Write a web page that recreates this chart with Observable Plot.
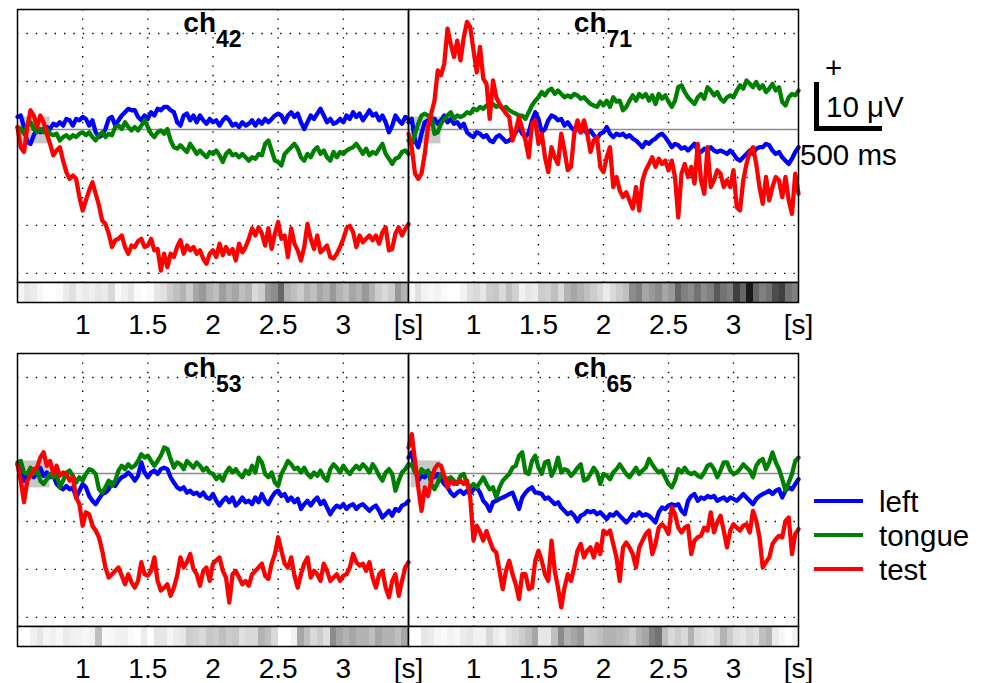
<!DOCTYPE html>
<html><head><meta charset="utf-8">
<script src="https://cdn.jsdelivr.net/npm/d3@7"></script>
<script src="https://cdn.jsdelivr.net/npm/@observablehq/plot@0.6"></script>
<style>
body{margin:0;background:#fff;font-family:"Liberation Sans",Arial,sans-serif;}
#fig{position:relative;width:988px;height:683px;overflow:hidden;background:#fff;}
#fig svg{position:absolute;}
.lbl{position:absolute;font-size:29.5px;line-height:29.5px;white-space:nowrap;color:#000;}
.title{position:absolute;font-weight:bold;font-size:28px;line-height:28px;text-align:center;white-space:nowrap;}
.title sub{font-size:23px;vertical-align:baseline;position:relative;top:15px;}
.bar{position:absolute;background:#000;}
</style></head><body><div id="fig"></div>
<script>
// ---------------- data ----------------
const seriesNames = ["left", "tongue", "test"];
const channels = ["42", "71", "53", "65"];
const tStart = 0.5, tStep = 0.025;      // sampling grid of the traces [s]
const sigStep = 0.05;                   // bin width of the significance strip [s]
const xDomain = [0.5, 3.5];
const yDomain = [-31.9, 25];            // µV
const xTicks = [1, 1.5, 2, 2.5, 3, 3.5];
const xTickLabels = ["1", "1.5", "2", "2.5", "3", "[s]"];
const yGrid = [-30, -20, -10, 10, 20];
const baselineWindow = [{x1: 0.52, x2: 0.75, y1: -3, y2: 2.6}];

const ch42_left = [2.6,2.9,0.5,-2.6,-3.0,-1.2,0.1,-0.6,0.1,0.5,
0.1,1.2,0.8,1.5,0.8,2.2,1.9,0.8,2.2,1.9,
2.6,2.2,0.8,1.9,-0.6,-1.6,-1.2,0.1,2.2,2.6,
0.8,1.9,2.9,3.6,4.3,4.0,4.0,2.6,1.9,2.9,
2.2,3.6,2.9,4.3,4.0,4.7,4.7,4.0,3.6,1.5,
0.8,2.9,3.3,1.9,2.9,1.5,2.9,1.9,1.2,2.2,
1.5,1.9,0.8,1.9,2.6,1.9,0.8,1.2,0.5,1.5,
0.8,1.2,1.9,0.8,1.9,1.2,2.2,1.5,2.2,2.9,
3.3,2.9,1.5,2.9,3.6,2.6,3.3,1.5,0.1,1.5,
2.9,2.2,3.3,4.3,2.9,1.5,2.2,1.2,1.5,2.2,
1.5,2.9,2.2,3.6,2.6,3.3,1.9,2.9,4.0,2.9,
3.3,1.9,2.9,1.5,-0.6,0.8,2.9,1.9,1.2,2.6,
2.2];
const ch42_tongue = [0.5,0.1,-0.9,0.8,1.5,0.1,-0.6,0.1,-0.6,0.1,
-0.9,-1.2,-0.9,-2.3,-1.6,-1.2,-1.9,-1.2,-1.6,-0.9,
-0.6,-1.2,-0.6,-1.6,-2.3,-1.2,-0.6,-1.6,-0.9,-1.2,
0.5,0.8,0.1,1.5,0.5,-0.2,0.5,-0.2,0.8,1.9,
0.5,-0.9,-1.6,-0.6,-0.2,-0.9,0.1,-2.3,-3.7,-4.0,
-3.3,-4.0,-4.7,-3.0,-4.0,-5.1,-4.4,-5.1,-5.8,-4.7,
-5.1,-4.4,-5.4,-6.8,-5.1,-4.4,-5.4,-5.1,-5.8,-5.1,
-5.8,-6.5,-5.8,-6.1,-5.1,-5.4,-3.0,-2.3,-4.4,-6.5,
-6.8,-7.5,-5.1,-4.4,-3.7,-3.0,-4.0,-5.8,-6.5,-5.1,
-5.8,-4.4,-3.7,-5.1,-4.4,-5.8,-6.5,-4.7,-5.8,-4.7,
-5.1,-4.4,-4.0,-3.7,-3.0,-4.0,-5.1,-4.0,-5.4,-4.7,
-5.1,-4.0,-3.0,-5.1,-6.1,-7.2,-6.1,-5.8,-4.7,-4.4,
-5.1];
const ch42_test = [0.5,-3.7,-4.7,0.5,4.0,2.9,0.5,2.9,1.5,-0.9,
-3.0,-5.4,-4.4,-3.7,-6.5,-8.9,-10.3,-9.6,-10.3,-14.1,
-16.9,-14.8,-12.7,-11.0,-13.4,-15.8,-19.0,-19.7,-21.7,-24.5,
-23.1,-22.8,-22.1,-24.5,-25.9,-24.2,-24.5,-23.3,-22.8,-24.5,
-24.2,-22.8,-25.2,-24.9,-29.4,-25.9,-28.7,-25.9,-26.6,-24.5,
-23.1,-25.9,-24.2,-25.2,-24.5,-25.9,-25.2,-26.9,-28.0,-25.9,
-25.2,-26.6,-23.8,-26.2,-24.5,-25.9,-24.9,-27.3,-23.8,-25.6,
-24.5,-22.8,-20.6,-22.1,-20.4,-21.7,-24.2,-20.6,-24.9,-21.7,
-19.3,-22.8,-22.1,-26.6,-20.6,-23.8,-25.2,-27.3,-24.5,-19.7,
-22.8,-24.9,-22.1,-25.6,-24.9,-24.2,-26.6,-26.9,-25.9,-24.5,
-22.8,-20.6,-20.1,-21.4,-24.5,-22.1,-23.5,-22.8,-22.1,-23.1,
-22.1,-23.8,-21.4,-20.4,-25.2,-24.9,-21.7,-20.4,-22.1,-20.7,
-19.7];

const ch71_left = [1.5,2.2,-2.3,-3.7,-0.9,1.5,1.9,1.2,2.2,1.2,
1.9,2.9,1.5,2.2,1.2,1.5,0.5,1.2,-0.6,-1.2,
-1.6,-0.6,-0.9,-1.6,-1.2,-2.3,-2.6,-1.6,-1.2,-1.9,
-2.6,-2.3,-1.6,-0.6,0.5,-0.9,-1.6,-0.6,1.9,3.6,
2.2,-0.6,0.1,1.9,2.9,2.6,1.9,2.2,0.8,1.5,
0.5,-0.2,0.5,-0.6,0.1,-0.9,-0.2,-1.2,-1.9,-0.9,
-0.6,0.5,-0.9,-1.6,-0.9,-1.2,-0.9,-1.6,-1.2,-1.9,
-2.3,-3.0,-3.7,-2.6,-3.0,-2.3,-1.9,-1.2,-0.9,-1.6,
-2.6,-3.7,-3.0,-3.3,-4.0,-3.7,-4.4,-3.7,-3.0,-4.4,
-4.7,-4.0,-4.4,-3.7,-4.4,-4.7,-4.4,-4.7,-5.1,-4.4,
-5.1,-6.1,-6.5,-5.8,-5.1,-4.4,-5.1,-4.0,-3.7,-3.7,
-3.0,-3.3,-4.4,-5.1,-4.7,-5.8,-6.5,-7.2,-6.1,-4.7,
-3.7];
const ch71_tongue = [-2.3,-3.0,-0.9,1.2,2.9,3.3,2.9,2.9,-0.9,-0.6,
1.2,2.2,2.9,3.6,2.2,2.9,2.6,2.9,3.6,3.3,
4.3,4.0,4.7,4.3,5.0,4.7,5.3,4.7,5.0,4.3,
4.7,4.0,3.6,3.3,2.9,2.9,2.2,3.6,5.0,6.0,
6.7,7.8,7.1,8.1,8.5,7.4,8.1,7.4,6.7,7.1,
6.7,7.4,7.1,6.4,6.7,6.0,5.3,5.0,4.7,5.8,
5.0,6.0,4.7,6.7,5.8,6.0,4.0,4.7,6.0,7.1,
6.0,7.4,6.7,7.4,6.0,7.1,5.3,7.4,6.4,7.1,
5.8,4.7,6.0,8.8,9.2,7.8,6.7,6.0,5.3,6.7,
7.4,6.4,8.8,8.1,7.1,7.8,6.4,5.8,6.7,7.1,
6.7,8.1,9.2,8.5,10.2,9.5,8.8,9.9,8.5,9.2,
7.8,8.5,9.5,8.1,8.8,5.7,5.0,6.7,7.4,7.1,
8.1];
const ch71_test = [-0.9,-3.7,-9.2,-10.3,-9.2,-5.1,0.5,3.3,6.0,12.3,
11.3,13.7,21.0,17.8,15.1,18.5,14.4,19.2,22.4,21.3,
16.5,11.9,17.2,10.6,9.5,2.2,10.2,6.7,5.3,4.3,
3.3,2.6,-2.3,-0.2,2.6,0.1,-2.3,-5.8,1.2,1.9,
-3.0,-0.9,-5.8,-8.9,-3.7,-5.8,-7.2,-0.9,-4.4,-8.5,
-7.8,-0.9,1.9,-0.6,1.9,-0.9,-4.7,-2.3,-1.6,-7.8,
-8.9,-5.8,-3.7,-12.0,-9.9,-12.7,-14.1,-13.1,-14.8,-16.5,
-12.0,-16.9,-10.6,-8.5,-7.2,-5.8,-7.8,-6.1,-7.2,-6.5,
-8.5,-6.5,-9.9,-18.3,-9.2,-7.2,-9.9,-7.8,-11.3,-3.0,
-10.6,-13.4,-3.7,-12.0,-10.6,-8.5,-9.2,-12.0,-10.6,-12.0,
-8.5,-16.2,-16.9,-10.6,-7.2,-4.7,-3.7,-7.2,-12.0,-15.5,
-9.9,-14.8,-12.0,-9.9,-10.6,-14.1,-9.9,-14.8,-17.6,-9.2,
-13.4];

const ch53_left = [1.9,0.2,-1.5,-0.1,0.2,-0.8,0.2,1.2,-0.5,0.2,
-0.8,-0.5,-2.2,-2.9,-3.3,-2.6,-3.3,-2.9,-5.0,-3.6,
-2.2,-2.9,-4.7,-5.7,-6.4,-5.3,-4.3,-4.0,-3.3,-1.9,
-2.6,-1.5,-0.8,-0.5,0.2,-0.5,-1.5,-0.5,2.3,0.2,
-0.8,0.2,0.6,-0.1,0.9,1.2,0.9,-0.8,-1.9,-2.9,
-3.3,-2.9,-4.0,-3.6,-4.3,-4.0,-4.7,-4.0,-5.0,-5.3,
-4.3,-5.7,-6.7,-5.7,-5.0,-6.0,-5.0,-6.7,-6.0,-5.0,
-6.0,-5.7,-6.4,-5.0,-6.0,-4.3,-5.7,-6.4,-5.0,-4.0,
-3.6,-4.7,-4.3,-5.7,-5.0,-6.0,-5.3,-7.4,-6.4,-5.7,
-6.7,-5.7,-5.0,-6.4,-5.7,-7.1,-8.5,-7.4,-6.7,-7.1,
-6.4,-7.4,-6.7,-6.4,-7.4,-6.7,-6.4,-7.1,-7.8,-7.1,
-6.7,-7.8,-9.2,-8.5,-7.8,-8.8,-7.4,-7.8,-6.7,-6.4,
-5.7];
const ch53_tongue = [2.3,2.6,0.2,-0.1,1.2,-0.1,0.9,-1.5,-2.2,-1.2,
-0.1,-0.8,-0.1,-2.9,-1.5,0.2,0.6,-0.5,-1.9,-0.8,
-1.5,-0.1,0.9,0.6,-0.1,-3.3,-4.0,-2.9,-1.5,-2.6,
-1.5,0.6,1.6,0.9,1.9,1.2,1.6,2.6,4.0,3.3,
3.7,2.6,1.6,2.6,3.7,5.4,5.1,3.0,1.2,2.3,
1.9,0.9,2.6,1.9,1.2,2.3,1.6,0.6,1.2,0.2,
-0.1,-1.2,-0.5,-1.5,0.2,1.2,0.2,0.9,-0.1,-0.8,
0.6,-0.1,1.6,0.2,3.3,2.3,-0.1,-0.8,0.2,-1.9,
-2.6,-0.1,1.2,2.6,1.9,0.9,1.2,0.2,1.2,-0.1,
-0.8,0.2,-0.5,0.6,-0.8,-1.5,0.9,1.9,1.2,0.2,
1.6,0.6,-0.1,0.9,1.6,0.9,1.9,1.2,0.2,1.9,
0.9,-0.5,-1.5,0.2,0.9,-0.1,-3.6,-1.5,0.2,0.9,
1.9];
const ch53_test = [1.9,-1.5,-6.0,-1.5,-0.5,0.9,1.2,3.3,4.4,1.6,
2.6,-0.1,1.6,-0.5,0.2,-0.1,-1.5,-0.8,-5.0,-6.4,
-10.9,-8.1,-8.5,-10.9,-11.9,-13.3,-16.1,-19.6,-21.7,-21.0,
-20.3,-19.6,-21.3,-23.1,-21.0,-22.7,-23.8,-22.4,-18.5,-21.0,
-21.3,-20.3,-17.5,-22.4,-24.4,-23.8,-23.1,-25.5,-23.8,-21.3,
-17.5,-19.6,-18.5,-16.8,-19.9,-21.0,-23.4,-20.3,-19.6,-22.4,
-18.8,-18.1,-17.5,-20.3,-21.7,-26.9,-21.0,-20.3,-21.7,-23.1,
-22.4,-23.4,-21.0,-20.3,-19.6,-18.8,-21.3,-22.0,-18.8,-16.8,
-13.3,-16.1,-18.8,-19.6,-17.5,-21.3,-23.8,-21.0,-18.8,-17.5,
-21.7,-20.3,-21.0,-22.4,-18.8,-20.3,-22.4,-21.7,-21.0,-22.4,
-21.3,-21.0,-19.6,-16.8,-18.5,-19.2,-18.8,-20.3,-18.5,-21.7,
-23.8,-21.0,-20.3,-23.8,-25.8,-22.4,-21.0,-25.5,-22.4,-19.6,
-18.5];

const ch65_left = [3.3,4.4,0.9,-1.5,-0.5,-0.8,0.2,-0.1,-0.8,-0.1,
-1.2,-2.2,-2.9,-4.0,-4.7,-4.0,-3.6,-4.3,-3.6,-4.3,
-3.3,-2.9,-4.0,-5.7,-6.4,-7.8,-6.0,-5.7,-5.3,-5.0,
-4.7,-4.3,-4.0,-5.7,-7.4,-5.0,-4.0,-3.3,-2.9,-4.0,
-4.0,-4.3,-5.3,-5.0,-5.7,-6.4,-6.0,-7.1,-7.8,-8.5,
-8.1,-8.8,-10.0,-8.8,-8.5,-7.8,-8.1,-7.8,-8.5,-8.1,
-8.8,-9.5,-8.5,-8.8,-8.1,-8.8,-9.5,-10.2,-9.5,-8.5,
-8.8,-8.1,-8.8,-8.5,-8.8,-9.5,-10.2,-8.1,-7.1,-7.4,
-6.7,-6.4,-6.7,-6.4,-7.8,-8.5,-5.7,-4.7,-4.3,-5.7,
-5.0,-5.3,-4.7,-5.0,-4.7,-5.7,-5.3,-5.0,-5.7,-5.0,
-5.3,-5.7,-5.0,-4.3,-5.0,-5.7,-6.4,-5.3,-4.7,-4.3,
-4.0,-3.6,-4.3,-3.6,-3.3,-5.0,-3.6,-2.9,-3.3,-2.2,
-1.2];
const ch65_tongue = [1.6,1.9,0.2,-0.5,0.9,0.2,0.6,-2.2,-3.3,-1.9,
-0.1,-0.8,-1.2,-0.8,-1.5,-2.2,-0.5,-0.1,-2.2,-2.9,
-2.2,-2.9,-1.9,-0.8,-2.2,-3.3,-2.9,-5.0,-2.9,-1.5,
-0.8,-0.1,1.2,1.6,3.7,4.4,0.2,-0.1,2.6,3.7,
1.2,-0.1,2.3,2.6,-0.5,0.9,3.3,0.2,0.9,0.6,
-0.5,0.2,1.2,1.9,-1.5,-1.2,-0.1,1.2,0.2,-2.2,
-0.1,-0.5,-1.2,0.2,0.9,1.9,0.9,-0.1,-0.8,0.2,
1.2,-0.1,0.6,1.2,3.0,1.9,0.9,0.2,0.6,-0.8,
-2.2,-2.9,-1.5,0.9,0.2,1.2,0.2,-0.1,0.2,-0.5,
-0.8,0.2,1.6,1.9,0.9,-0.8,0.6,2.3,2.3,0.6,
-0.1,0.2,0.9,1.9,1.2,0.6,-0.8,1.6,2.6,3.0,
0.9,2.3,4.4,2.3,0.9,-1.2,-3.6,-1.9,-0.1,2.6,
3.3];
const ch65_test = [5.4,8.2,2.6,-2.9,-7.8,-2.9,-4.7,-1.5,0.9,1.9,
1.6,-0.5,-2.9,-1.5,-2.2,-1.9,-1.5,-2.2,-1.5,-5.0,
-14.0,-10.9,-12.2,-14.0,-12.0,-14.0,-15.8,-16.5,-20.3,-24.1,
-20.3,-18.2,-21.0,-23.1,-26.2,-21.0,-21.0,-24.1,-23.8,-18.2,
-16.1,-18.2,-21.0,-22.4,-14.0,-20.3,-23.8,-27.9,-23.8,-21.0,
-22.4,-19.6,-16.1,-14.7,-17.5,-16.1,-15.4,-17.5,-14.7,-16.8,
-11.9,-12.6,-11.9,-14.7,-17.5,-22.4,-15.4,-14.4,-15.4,-16.8,
-19.6,-15.4,-14.0,-12.6,-11.9,-16.8,-14.7,-11.3,-10.6,-11.3,
-12.6,-7.1,-8.5,-11.3,-12.3,-11.3,-10.9,-16.8,-14.0,-13.3,
-13.0,-11.3,-11.9,-8.1,-12.3,-10.2,-8.8,-11.9,-15.4,-11.9,
-10.6,-11.3,-11.9,-10.9,-10.6,-12.3,-7.8,-9.9,-13.3,-19.6,
-18.5,-17.5,-14.7,-13.7,-13.0,-13.3,-9.9,-9.2,-16.8,-12.6,
-11.6];

// significance strips (0 = white, 1 = black), one value per 0.05 s
const ch42_sig = [0.04,0.1,0.08,0.03,0,0,0.02,0.08,0.12,0.05,0.08,0.06,0.1,0.08,0.15,0.02,0.06,0.1,0.02,0,
0.02,0.1,0.12,0.2,0.25,0.3,0.2,0.35,0.4,0.3,0.25,0.38,0.3,0.35,0.25,0.3,0.15,0.2,0.4,0.45,
0.6,0.3,0.25,0.2,0.3,0.25,0.35,0.3,0.4,0.3,0.25,0.35,0.3,0.4,0.3,0.2,0.15,0.2,0.4,0.3];
const ch71_sig = [0.03,0.12,0.05,0.03,0.05,0.02,0,0,0.05,0.12,0.15,0.1,0.2,0.22,0.15,0.25,0.18,0.05,0.1,0.08,
0.2,0.18,0.25,0.15,0.3,0.35,0.3,0.25,0.2,0.15,0.08,0.15,0.2,0.25,0.45,0.5,0.35,0.4,0.45,0.35,
0.4,0.6,0.5,0.45,0.55,0.45,0.5,0.65,0.55,0.5,0.75,0.6,0.9,0.6,0.5,0.55,0.7,0.75,0.55,0.5];
const ch53_sig = [0,0,0.06,0.1,0.04,0.06,0.03,0.08,0.06,0.05,0.03,0.05,0.25,0.02,0.03,0.05,0.06,0.02,0,0.08,
0,0.1,0.1,0.04,0.08,0.1,0.2,0.18,0.15,0.22,0.2,0.25,0.2,0.22,0.12,0.15,0.15,0.3,0.25,0.15,
0,0,0.05,0.35,0.25,0.15,0.2,0.12,0.45,0.35,0.3,0.35,0.3,0.3,0.25,0.35,0.3,0.3,0.25,0.35];
const ch65_sig = [0,0,0.1,0.08,0.03,0.02,0.05,0.03,0.08,0.1,0.05,0.05,0.15,0.08,0.05,0.12,0.15,0.2,0.25,0.35,
0.1,0.1,0.25,0.45,0.3,0.35,0.4,0.2,0.22,0.25,0.3,0.3,0.28,0.25,0.2,0.3,0.35,0.5,0.55,0.25,
0.15,0.2,0.15,0.3,0.15,0.12,0.1,0.15,0.3,0.2,0.12,0.1,0.15,0.12,0.25,0.3,0.08,0.03,0,0.05];

// ---------------- style & layout ----------------
const seriesColors = ["#0000ff", "#008000", "#ff0000"];
const FONT = '"Liberation Sans", Arial, Helvetica, sans-serif';
const panelLayout = [
  {left: 17,  top: 9,   width: 391},
  {left: 408, top: 9,   width: 390},
  {left: 17,  top: 353, width: 391},
  {left: 408, top: 353, width: 390}
];
const panelHeight = 273, stripHeight = 20;
const panelData = [
  [ch42_left, ch42_tongue, ch42_test, ch42_sig],
  [ch71_left, ch71_tongue, ch71_test, ch71_sig],
  [ch53_left, ch53_tongue, ch53_test, ch53_sig],
  [ch65_left, ch65_tongue, ch65_test, ch65_sig]
];

const fig = document.getElementById("fig");
const tickLabel = new Map(xTicks.map((t, i) => [t, xTickLabels[i]]));

function place(el, left, top) {
  el.style.position = "absolute";
  el.style.left = left + "px";
  el.style.top = top + "px";
  fig.appendChild(el);
}

channels.forEach((ch, k) => {
  const L = panelLayout[k];
  const [a, b, c, sig] = panelData[k];
  const rows = [a, b, c].flatMap((arr, s) =>
    arr.map((v, i) => ({t: tStart + i * tStep, v, series: seriesNames[s]})));
  const bins = sig.map((d, i) => ({t0: tStart + i * sigStep, t1: tStart + (i + 1) * sigStep, d}));

  const traces = Plot.plot({
    width: L.width, height: panelHeight, margin: 0,
    x: {domain: xDomain, axis: null},
    y: {domain: yDomain, axis: null},
    color: {domain: seriesNames, range: seriesColors},
    style: {overflow: "visible", background: "transparent"},
    marks: [
      Plot.rect(baselineWindow, {x1: "x1", x2: "x2", y1: "y1", y2: "y2", fill: "#c8c8c8"}),
      Plot.ruleX(xTicks.slice(0, 5), {stroke: "black", strokeWidth: 1.4, strokeDasharray: "1.4,8"}),
      Plot.ruleY(yGrid, {stroke: "black", strokeWidth: 1.4, strokeDasharray: "1.4,8"}),
      Plot.ruleY([0], {stroke: "#8a8a8a", strokeWidth: 1.5}),
      Plot.line(rows, {x: "t", y: "v", z: "series", stroke: "series", strokeWidth: 4.3, strokeLinejoin: "round"}),
      Plot.frame({stroke: "black", strokeWidth: 1.5})
    ]
  });
  place(traces, L.left, L.top);

  const strip = Plot.plot({
    width: L.width, height: stripHeight + 60,
    marginTop: 0, marginBottom: 60, marginLeft: 0, marginRight: 0,
    x: {domain: xDomain, ticks: xTicks, tickFormat: d => tickLabel.get(d), tickSize: 0, tickPadding: 12, label: null},
    y: {axis: null},
    color: {type: "linear", domain: [0, 1], range: ["#ffffff", "#000000"]},
    style: {overflow: "visible", background: "transparent", fontSize: "28px", fontFamily: FONT, color: "black"},
    marks: [
      Plot.barX(bins, {x1: "t0", x2: "t1", fill: "d", shapeRendering: "crispEdges"}),
      Plot.frame({stroke: "black", strokeWidth: 1.5})
    ]
  });
  place(strip, L.left, L.top + panelHeight);

  const title = document.createElement("div");
  title.className = "title";
  title.style.width = L.width + "px";
  title.innerHTML = "ch<sub>" + ch + "</sub>";
  place(title, L.left, L.top + (k < 2 ? 0 : 1));
});

// scale bar
function bar(l, t, w, h) { const d = document.createElement("div"); d.className = "bar"; d.style.width = w + "px"; d.style.height = h + "px"; place(d, l, t); }
function label(txt, l, t) { const d = document.createElement("div"); d.className = "lbl"; d.textContent = txt; place(d, l, t); return d; }
bar(814, 82, 5, 49);
bar(814, 126, 68, 5);
label("+", 825, 53);
label("10 \u03BCV", 826, 92);
label("500 ms", 800, 139.5);

// legend
seriesNames.forEach((name, i) => {
  const sw = document.createElement("div");
  sw.style.width = "49px"; sw.style.height = "4px"; sw.style.background = seriesColors[i];
  place(sw, 814, 499 + i * 34);
  label(name, 879, 487 + i * 34);
});
</script></body></html>
